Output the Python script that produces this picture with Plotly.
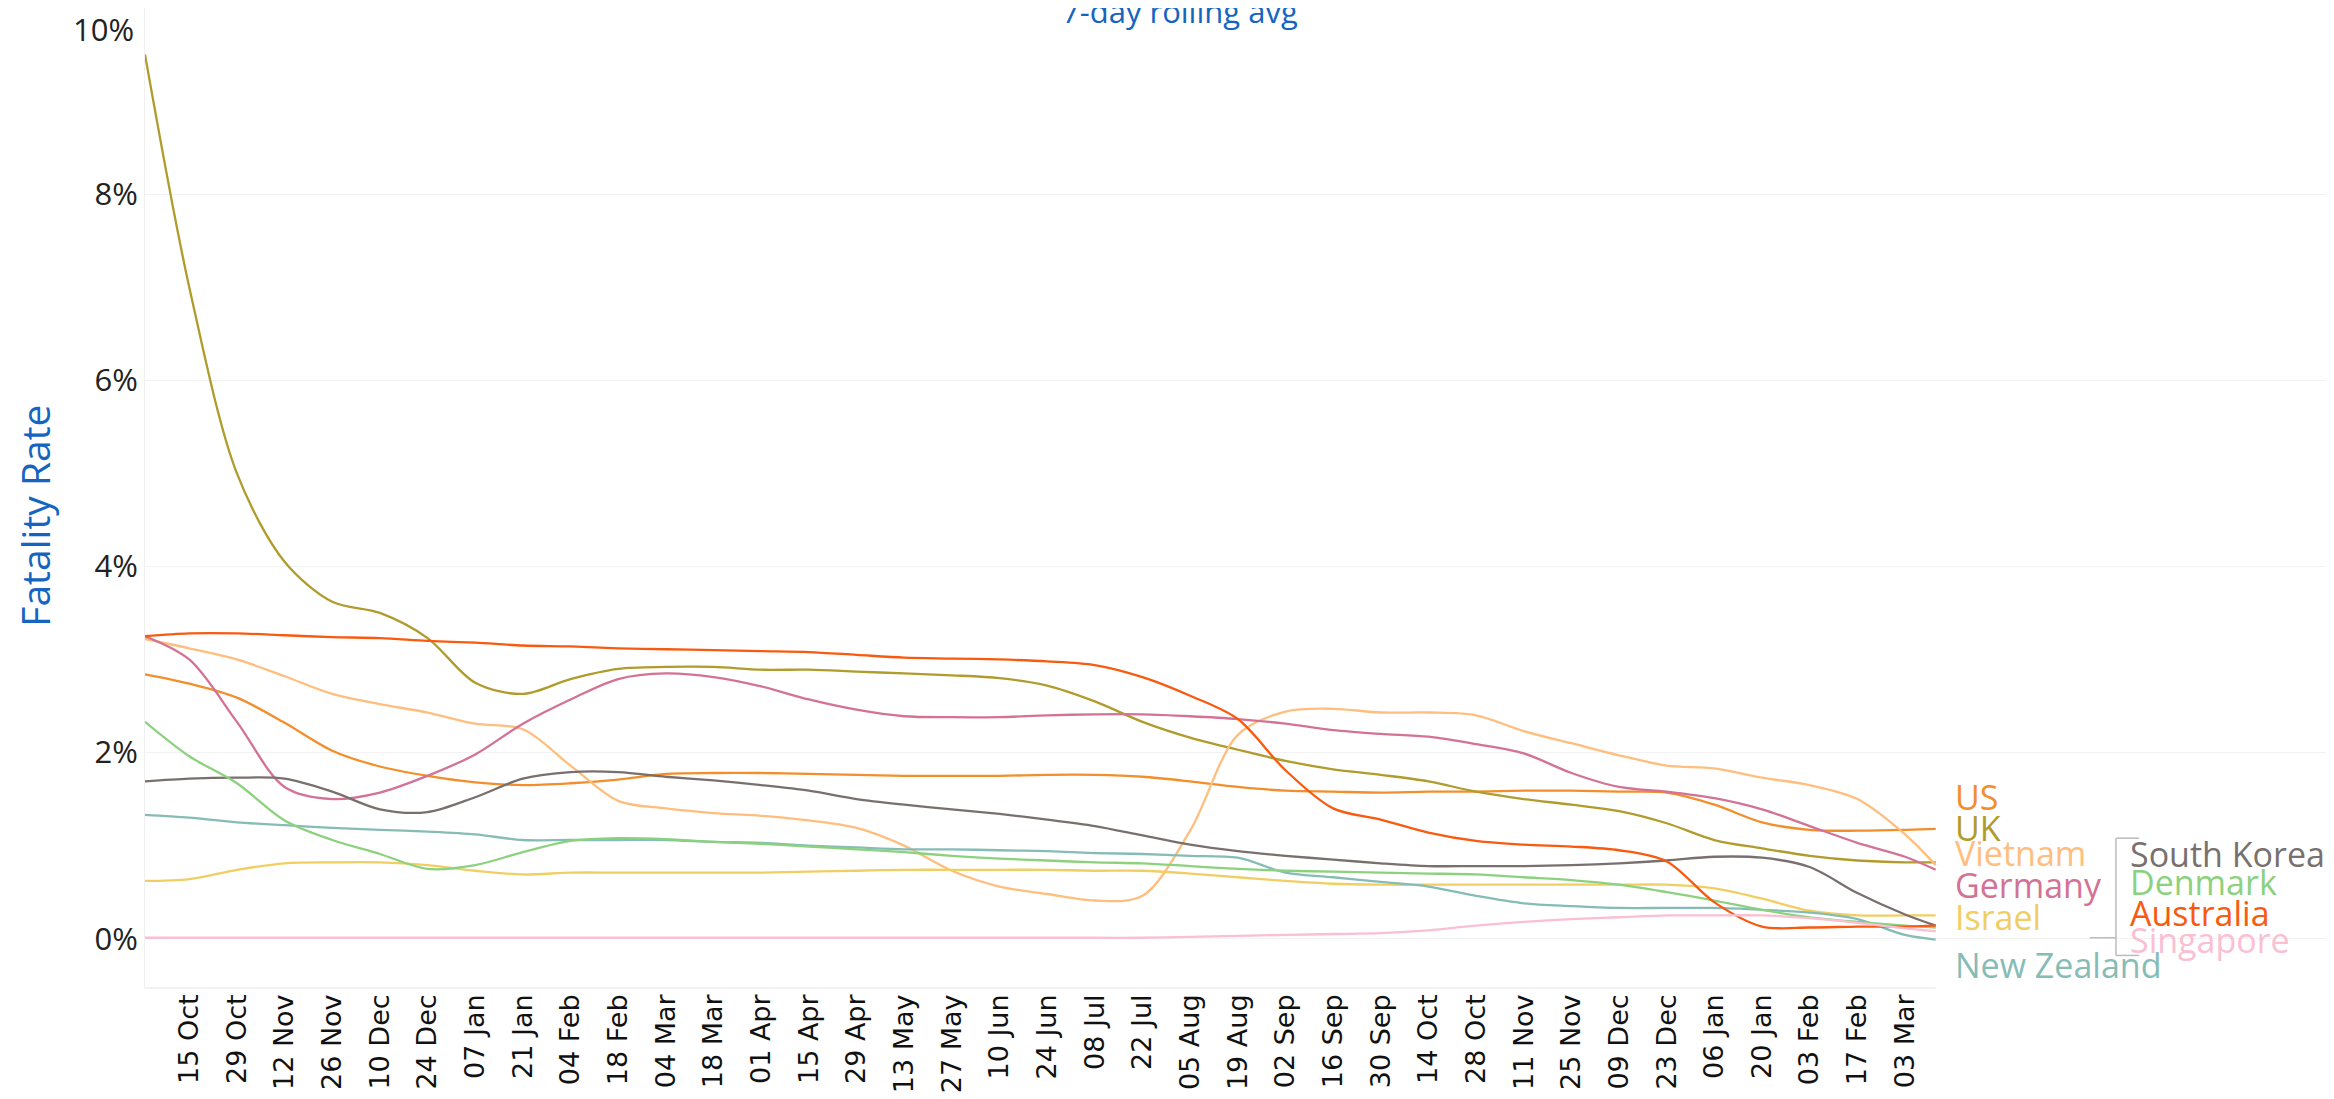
import pandas as pd
import plotly.graph_objs as go

# x positions: first day, every 14 days (same as the axis ticks), last day
tick_dates = pd.date_range("2020-10-15", "2022-03-03", freq="14D")
dates = ["2020-10-02"] + list(tick_dates.strftime("%Y-%m-%d")) + ["2022-03-12"]

# fatality rate, % (7-day rolling avg)
us = [2.84, 2.74, 2.59, 2.32, 2.02, 1.85, 1.75, 1.68, 1.65, 1.67, 1.71, 1.77, 1.78, 1.78,
      1.77, 1.76, 1.75, 1.75, 1.75, 1.76, 1.76, 1.74, 1.69, 1.63, 1.59, 1.58,
      1.57, 1.58, 1.58, 1.59, 1.59, 1.58, 1.57, 1.44, 1.25, 1.17, 1.16, 1.17, 1.18]
uk = [9.5, 7.0, 5.0, 4.05, 3.62, 3.50, 3.23, 2.75, 2.63, 2.79, 2.90, 2.92, 2.92, 2.89,
      2.89, 2.87, 2.85, 2.83, 2.80, 2.72, 2.55, 2.33, 2.16, 2.03, 1.91, 1.82,
      1.76, 1.69, 1.58, 1.50, 1.44, 1.37, 1.24, 1.06, 0.97, 0.89, 0.84, 0.82, 0.82]
vietnam = [3.22, 3.12, 3.00, 2.82, 2.63, 2.52, 2.43, 2.31, 2.25, 1.86, 1.48, 1.40, 1.35, 1.32,
           1.27, 1.19, 1.00, 0.73, 0.56, 0.48, 0.41, 0.46, 1.16, 2.19, 2.44, 2.47,
           2.43, 2.43, 2.40, 2.23, 2.10, 1.97, 1.86, 1.83, 1.73, 1.65, 1.50, 1.12, 0.79]
germany = [3.25, 3.00, 2.33, 1.63, 1.50, 1.57, 1.75, 1.98, 2.31, 2.57, 2.79, 2.85, 2.81, 2.71,
           2.57, 2.46, 2.39, 2.38, 2.38, 2.40, 2.41, 2.41, 2.39, 2.36, 2.31, 2.24,
           2.20, 2.17, 2.09, 1.99, 1.78, 1.63, 1.58, 1.51, 1.39, 1.21, 1.03, 0.88, 0.74]
israel = [0.62, 0.64, 0.74, 0.81, 0.82, 0.82, 0.79, 0.73, 0.69, 0.71, 0.71, 0.71, 0.71, 0.71,
          0.72, 0.73, 0.74, 0.74, 0.74, 0.74, 0.73, 0.73, 0.70, 0.66, 0.62, 0.59,
          0.58, 0.58, 0.58, 0.58, 0.58, 0.58, 0.58, 0.54, 0.43, 0.30, 0.25, 0.25, 0.25]
new_zealand = [1.33, 1.30, 1.25, 1.22, 1.19, 1.17, 1.15, 1.12, 1.06, 1.06, 1.06, 1.06, 1.04, 1.03,
               1.00, 0.98, 0.96, 0.96, 0.95, 0.94, 0.92, 0.91, 0.89, 0.87, 0.71, 0.66,
               0.61, 0.56, 0.46, 0.38, 0.35, 0.33, 0.33, 0.33, 0.31, 0.28, 0.21, 0.04, -0.01]
south_korea = [1.69, 1.72, 1.73, 1.72, 1.58, 1.39, 1.36, 1.52, 1.72, 1.79, 1.79, 1.74, 1.70, 1.65,
               1.59, 1.50, 1.44, 1.39, 1.34, 1.28, 1.21, 1.11, 1.01, 0.94, 0.89, 0.85,
               0.81, 0.78, 0.78, 0.78, 0.79, 0.81, 0.84, 0.88, 0.87, 0.77, 0.49, 0.26, 0.14]
denmark = [2.33, 1.96, 1.67, 1.27, 1.06, 0.91, 0.75, 0.79, 0.93, 1.05, 1.08, 1.07, 1.04, 1.02,
           0.99, 0.96, 0.93, 0.89, 0.86, 0.84, 0.82, 0.81, 0.78, 0.75, 0.73, 0.72,
           0.71, 0.70, 0.69, 0.66, 0.63, 0.58, 0.50, 0.41, 0.31, 0.23, 0.18, 0.14, 0.12]
australia = [3.25, 3.28, 3.28, 3.26, 3.24, 3.23, 3.20, 3.18, 3.15, 3.14, 3.12, 3.11, 3.10, 3.09,
             3.08, 3.05, 3.02, 3.01, 3.00, 2.98, 2.94, 2.81, 2.61, 2.36, 1.81, 1.40,
             1.28, 1.14, 1.05, 1.01, 0.99, 0.95, 0.83, 0.39, 0.13, 0.12, 0.13, 0.13, 0.14]
singapore = [0.01, 0.01, 0.01, 0.01, 0.01, 0.01, 0.01, 0.01, 0.01, 0.01, 0.01, 0.01, 0.01, 0.01,
             0.01, 0.01, 0.01, 0.01, 0.01, 0.01, 0.01, 0.01, 0.02, 0.03, 0.04, 0.05,
             0.06, 0.09, 0.14, 0.18, 0.21, 0.23, 0.25, 0.25, 0.25, 0.22, 0.17, 0.11, 0.08]

series = [
    ("US", us, "#F28E2B"),
    ("UK", uk, "#B09C2C"),
    ("Vietnam", vietnam, "#FFBE7D"),
    ("Germany", germany, "#D37295"),
    ("Israel", israel, "#F1CE63"),
    ("New Zealand", new_zealand, "#86BCB6"),
    ("South Korea", south_korea, "#79706E"),
    ("Denmark", denmark, "#8CD17D"),
    ("Australia", australia, "#F85A0F"),
    ("Singapore", singapore, "#FABFD2"),
]

# end labels: (column x in paper units, y in data units)
label_pos = {
    "US": (0.826, 1.52), "UK": (0.826, 1.19), "Vietnam": (0.826, 0.92),
    "Germany": (0.826, 0.58), "Israel": (0.826, 0.23), "New Zealand": (0.826, -0.28),
    "South Korea": (0.906, 0.91), "Denmark": (0.906, 0.61),
    "Australia": (0.906, 0.28), "Singapore": (0.906, -0.01),
}

data = []
for name, vals, col in series:
    data.append(go.Scatter(x=dates, y=vals, name=name, mode="lines",
                           line=dict(color=col, width=2.3, shape="spline", smoothing=0.9),
                           hoverinfo="x+y+name"))

annotations = []
for name, vals, col in series:
    px, py = label_pos[name]
    annotations.append(dict(xref="paper", yref="y", x=px, y=py, text=name,
                            showarrow=False, xanchor="left", yanchor="middle",
                            font=dict(family="Open Sans", size=34, color=col)))

annotations.append(dict(xref="paper", yref="y", x=-0.004, y=10, text="10%", showarrow=False,
                        xanchor="right", yanchor="middle", yshift=-21,
                        font=dict(family="Open Sans", size=31, color="#222222")))
annotations.append(dict(xref="paper", yref="paper", x=0.473, y=1, text="7-day rolling avg",
                        showarrow=False, xanchor="center", yanchor="middle", yshift=-3,
                        font=dict(family="Open Sans", size=31, color="#1565C0")))
annotations.append(dict(xref="paper", yref="y", x=-0.0505, y=4.55, text="Fatality Rate",
                        showarrow=False, textangle=-90, xanchor="center", yanchor="middle",
                        font=dict(family="Open Sans", size=39, color="#1565C0")))

bracket = dict(type="line", xref="paper", yref="y", line=dict(color="#BBBBBB", width=1.5))
shapes = [
    dict(bracket, x0=0.8885, x1=0.9004, y0=0.01, y1=0.01),
    dict(bracket, x0=0.9004, x1=0.9004, y0=-0.18, y1=1.08),
    dict(bracket, x0=0.9004, x1=0.911, y0=1.08, y1=1.08),
    dict(bracket, x0=0.9004, x1=0.911, y0=-0.18, y1=-0.18),
    # faint bottom edge of the date axis
    dict(type="line", xref="x", yref="paper", x0=dates[0], x1=dates[-1], y0=0, y1=0,
         line=dict(color="#EEEEEE", width=1.5)),
]

# the page body has an 8px margin, so the figure is 8px smaller and margins shifted
layout = go.Layout(
    width=2326, height=1091,
    margin=dict(l=137, r=0, t=0, b=111),
    paper_bgcolor="white", plot_bgcolor="white",
    showlegend=False,
    xaxis=dict(range=["2020-10-02", "2022-07-07"], tickvals=list(tick_dates),
               tickformat="%d %b", tickangle=-90, showgrid=False, zeroline=False,
               automargin=False,
               tickfont=dict(family="DejaVu Sans", size=27, color="#111111")),
    yaxis=dict(range=[-0.53, 10], tickvals=[0, 2, 4, 6, 8, 10],
               ticktext=["0%", "2%", "4%", "6%", "8%", ""],
               gridcolor="#F2F2F2", zeroline=False, showline=True, linecolor="#F0F0F0",
               automargin=False,
               tickfont=dict(family="Open Sans", size=31, color="#222222")),
    annotations=annotations,
    shapes=shapes,
)

fig = go.Figure(data=data, layout=layout)
fig.write_html("out.html")
